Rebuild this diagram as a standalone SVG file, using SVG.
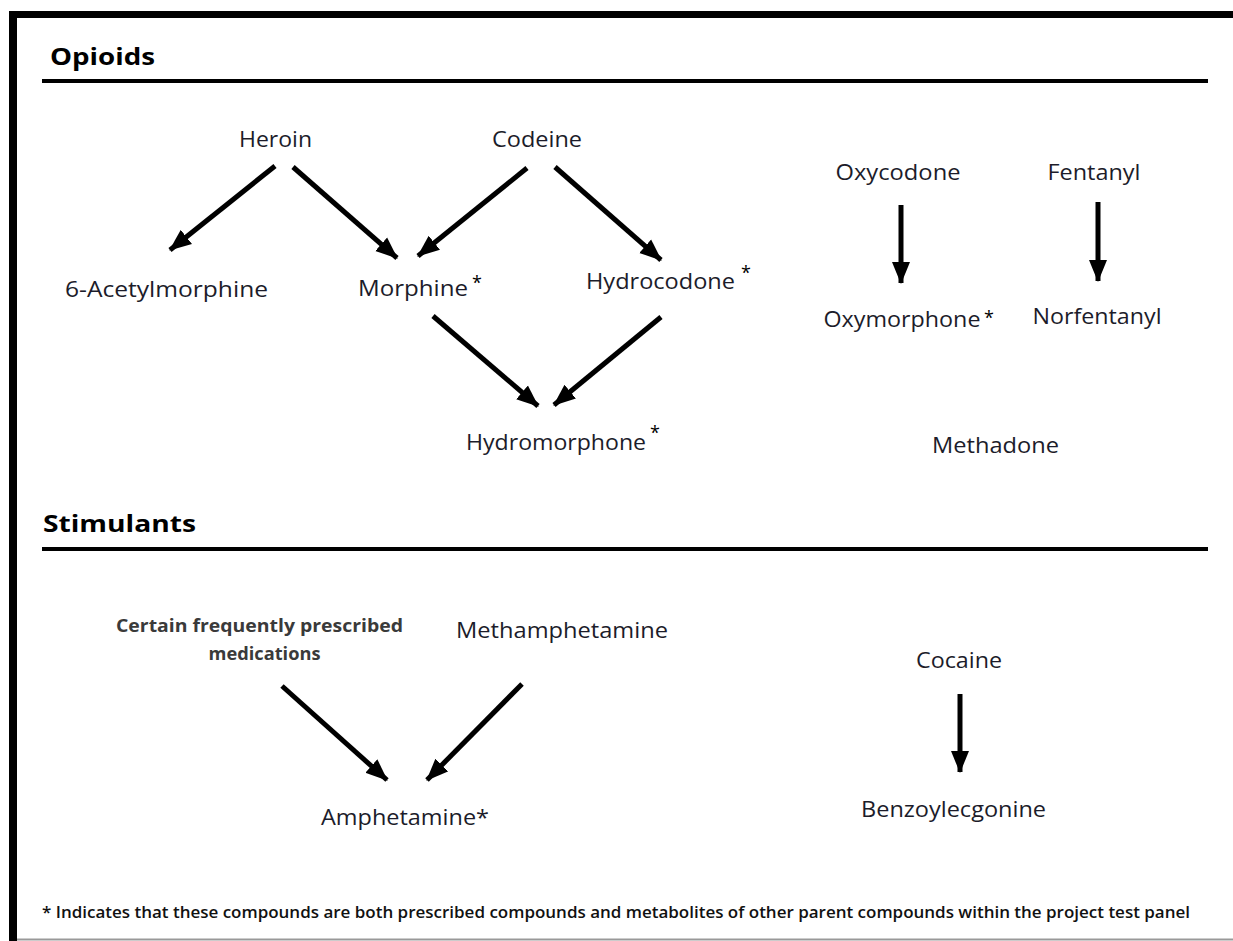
<svg xmlns="http://www.w3.org/2000/svg" width="1233" height="941" viewBox="0 0 1233 941">
<style>
.t{font-family:"Open Sans","Noto Sans",sans-serif;font-size:22.5px;fill:#1c1c2a;text-anchor:middle}
.h{font-family:"Open Sans","Noto Sans",sans-serif;font-size:24px;font-weight:bold;fill:#000}
.s{font-family:"Open Sans","Noto Sans",sans-serif;font-size:18px;font-weight:bold;fill:#3a3a3a;text-anchor:middle}
.f{font-family:"Open Sans","Noto Sans",sans-serif;font-size:16px;font-weight:600;fill:#111}
.ast{font-family:"Open Sans","Noto Sans",sans-serif;font-size:18px;fill:#000}
.c line{stroke:#000;stroke-width:5;marker-end:url(#ah)}
</style>
<defs>
<marker id="ah" markerUnits="userSpaceOnUse" markerWidth="24" markerHeight="20" refX="21" refY="10" orient="auto">
<path d="M0,1 L22,10 L0,19 Z" fill="#000"/>
</marker>
</defs>
<rect width="1233" height="941" fill="#fff"/>
<g id="frame">
<line x1="9" y1="14.5" x2="1233" y2="14.5" stroke="#000" stroke-width="7"/>
<line x1="13" y1="11" x2="13" y2="941" stroke="#000" stroke-width="8"/>
<line x1="17" y1="939.5" x2="1233" y2="939.5" stroke="#999" stroke-width="2"/>
</g>
<g id="opioids-heading">
<text class="h" x="50" y="65" textLength="105" lengthAdjust="spacingAndGlyphs">Opioids</text>
<line x1="42" y1="81" x2="1208" y2="81" stroke="#000" stroke-width="4"/>
</g>
<g id="stimulants-heading">
<text class="h" x="43" y="532" textLength="153" lengthAdjust="spacingAndGlyphs">Stimulants</text>
<line x1="42" y1="549" x2="1208" y2="549" stroke="#000" stroke-width="4"/>
</g>
<g id="heroin"><text class="t" x="275.5" y="147" textLength="73" lengthAdjust="spacingAndGlyphs">Heroin</text></g>
<g id="codeine"><text class="t" x="537" y="147" textLength="90" lengthAdjust="spacingAndGlyphs">Codeine</text></g>
<g id="acetylmorphine"><text class="t" x="166.5" y="297" textLength="203" lengthAdjust="spacingAndGlyphs">6-Acetylmorphine</text></g>
<g id="morphine"><text class="t" x="413" y="296" textLength="110" lengthAdjust="spacingAndGlyphs">Morphine</text><text class="ast" x="472" y="289">*</text></g>
<g id="hydrocodone"><text class="t" x="660.5" y="289" textLength="149" lengthAdjust="spacingAndGlyphs">Hydrocodone</text><text class="ast" x="741" y="279">*</text></g>
<g id="hydromorphone"><text class="t" x="556" y="450" textLength="180" lengthAdjust="spacingAndGlyphs">Hydromorphone</text><text class="ast" x="650" y="439">*</text></g>
<g id="oxycodone"><text class="t" x="898" y="180" textLength="125" lengthAdjust="spacingAndGlyphs">Oxycodone</text></g>
<g id="fentanyl"><text class="t" x="1094" y="180" textLength="93" lengthAdjust="spacingAndGlyphs">Fentanyl</text></g>
<g id="oxymorphone"><text class="t" x="902" y="327" textLength="157" lengthAdjust="spacingAndGlyphs">Oxymorphone</text><text class="ast" x="984" y="324">*</text></g>
<g id="norfentanyl"><text class="t" x="1097" y="324" textLength="129" lengthAdjust="spacingAndGlyphs">Norfentanyl</text></g>
<g id="methadone"><text class="t" x="995.5" y="453" textLength="127" lengthAdjust="spacingAndGlyphs">Methadone</text></g>
<g id="certain-medications"><text class="s" x="259.5" y="632" textLength="287" lengthAdjust="spacingAndGlyphs">Certain frequently prescribed</text><text class="s" x="264.5" y="660" textLength="112" lengthAdjust="spacingAndGlyphs">medications</text></g>
<g id="methamphetamine"><text class="t" x="562" y="638" textLength="212" lengthAdjust="spacingAndGlyphs">Methamphetamine</text></g>
<g id="amphetamine"><text class="t" x="405" y="825" textLength="168" lengthAdjust="spacingAndGlyphs">Amphetamine*</text></g>
<g id="cocaine"><text class="t" x="959" y="668" textLength="86" lengthAdjust="spacingAndGlyphs">Cocaine</text></g>
<g id="benzoylecgonine"><text class="t" x="953.5" y="817" textLength="185" lengthAdjust="spacingAndGlyphs">Benzoylecgonine</text></g>
<g id="footnote"><text class="f" x="42" y="918" textLength="1148" lengthAdjust="spacingAndGlyphs">* Indicates that these compounds are both prescribed compounds and metabolites of other parent compounds within the project test panel</text></g>
<g id="connectors" class="c">
<line x1="275" y1="166" x2="170" y2="250"/>
<line x1="293" y1="167" x2="397" y2="258"/>
<line x1="527" y1="168" x2="418" y2="256"/>
<line x1="555" y1="167" x2="661" y2="260"/>
<line x1="433" y1="316" x2="538" y2="406"/>
<line x1="661" y1="317" x2="554" y2="405"/>
<line x1="901" y1="205" x2="901" y2="283"/>
<line x1="1098" y1="202" x2="1098" y2="281"/>
<line x1="282" y1="686" x2="387" y2="780"/>
<line x1="522" y1="684" x2="427" y2="780"/>
<line x1="960" y1="694" x2="960" y2="772"/>
</g>
</svg>
